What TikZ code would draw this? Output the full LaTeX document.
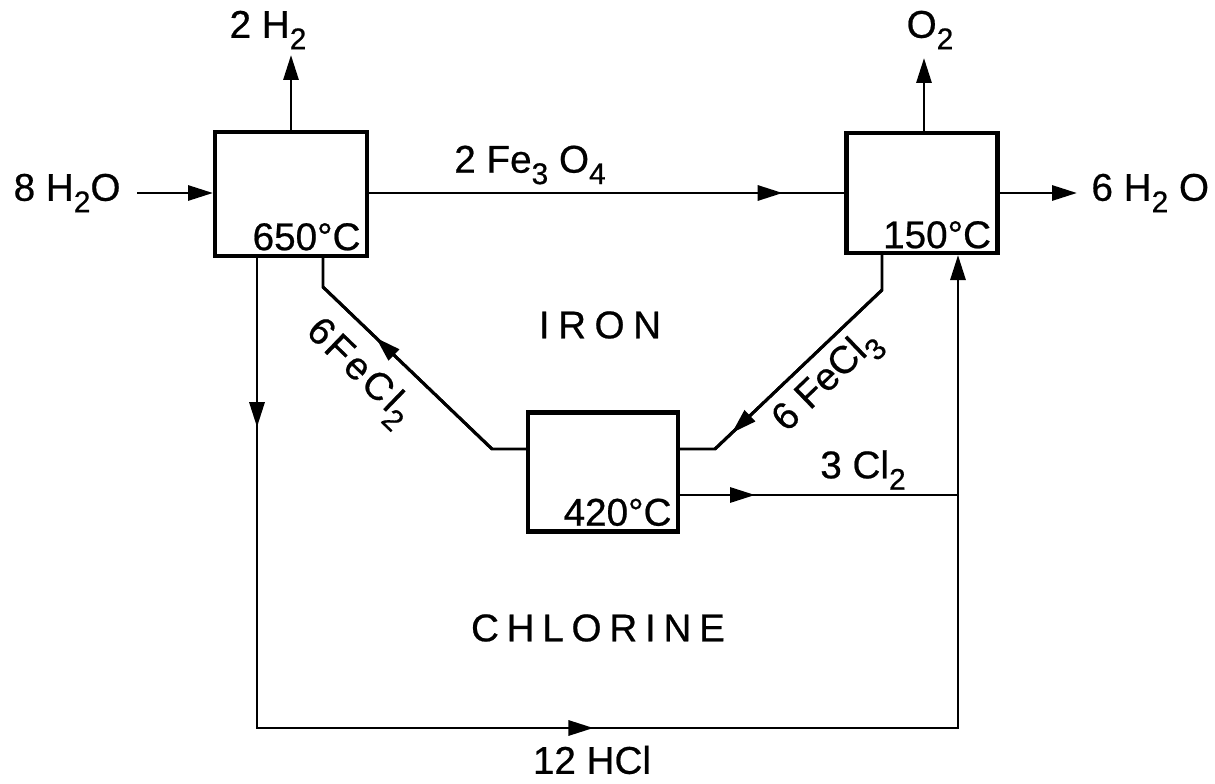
\documentclass[tikz,border=0pt]{standalone}
\usepackage{fontspec}
\setmainfont{Liberation Sans}[FakeBold=0.6]
\usetikzlibrary{arrows.meta,decorations.markings,calc}
\newcommand\sbs[1]{\raisebox{-6.5pt}{\fontsize{17}{17}\selectfont #1}}
\begin{document}
\begin{tikzpicture}[x=0.02cm,y=-0.02cm, line width=1.7pt, line join=miter,
  >={Triangle[length=0.5cm,width=0.3cm]},
  box/.style={draw, line width=2.3pt, inner sep=0pt},
  lbl/.style={font=\fontsize{22}{26}\selectfont, inner sep=0pt},
  marr/.style={postaction={decorate},decoration={markings,mark=at position #1 with {\arrow{>}}}}]
\useasboundingbox (0,0) rectangle (1215,784);
% boxes
\node[box, minimum width=3.04cm, minimum height=2.48cm] (L) at (291,194) {};
\node[box, minimum width=3.02cm, minimum height=2.40cm] (R) at (922,193) {};
\node[box, minimum width=3.00cm, minimum height=2.38cm] (M) at (603,472) {};
\node[lbl, anchor=south east] (tL) at ($(L.south east)+(-7,-6)$) {650°C};
\node[lbl, anchor=south east] (tR) at ($(R.south east)+(-7,-5)$) {150°C};
\node[lbl, anchor=south east] (tM) at ($(M.south east)+(-7,-6)$) {420°C};
% labels
\node[lbl] (h2) at (268,30) {2 H\sbs{2}};
\node[lbl] (o2) at (930,30) {O\sbs{2}};
\node[lbl, anchor=east] (w8) at (122,193) {8 H\sbs{2}O};
\node[lbl, anchor=west] (w6) at (1090,193) {6 H\sbs{2} O};
\node[lbl] (fe3o4) at (530,165) {2 Fe\sbs{3} O\sbs{4}};
\node[lbl] (iron) at (600,325) {\addfontfeatures{LetterSpace=22}IRON};
\node[lbl] (chl) at (598,628) {\addfontfeatures{LetterSpace=20}CHLORINE};
\node[lbl] (hcl) at (592,760) {12 HCl};
\node[lbl] (cl2) at (863,470) {3 Cl\sbs{2}};
\node[lbl, rotate=-44] (fecl2) at (358,373) {\addfontfeatures{LetterSpace=8}6FeCl\sbs{2}};
\node[lbl, rotate=44] (fecl3) at (828,382) {6 FeCl\sbs{3}};
% coordinates
\coordinate (h2t) at (291,55);
\coordinate (o2t) at (924,58);
\coordinate (w8s) at (137,193);
\coordinate (w6e) at (1077,193);
\coordinate (a1) at (323,287);
\coordinate (a2) at (492,449);
\coordinate (b1) at (882,290);
\coordinate (b2) at (715,449);
\coordinate (c1) at (958,495);
\coordinate (d1) at (257,728);
\coordinate (d2) at (958,728);
% connectors
\draw[->] (L.north) -- (h2t);
\draw[->] (R.north -| o2t) -- (o2t);
\draw[->] (w8s) -- (L.west |- w8s);
\draw[marr=0.87] (L.east |- R.west) -- (R.west);
\draw[->] (R.east) -- (w6e);
\draw (M.west |- a2) -- (a2) -- (a1) -- (L.south -| a1);
\draw[marr=0.69] (a2) -- (a1);
\draw (R.south -| b1) -- (b1) -- (b2) -- (M.east |- b2);
\draw[marr=0.9] (b1) -- (b2);
\draw[marr=0.27] (M.east |- c1) -- (c1);
\draw (L.south -| d1) -- (d1) -- (d2) -- (c1);
\draw[marr=0.36] (L.south -| d1) -- (d1);
\draw[marr=0.48] (d1) -- (d2);
\draw[->] (c1) -- (R.south -| c1);
\end{tikzpicture}
\end{document}
